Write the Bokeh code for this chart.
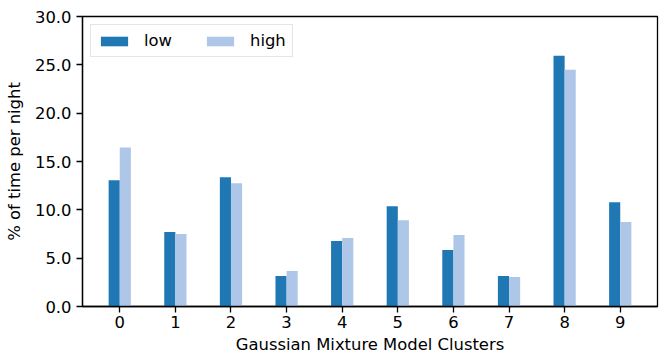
from bokeh.plotting import figure
from bokeh.models import ColumnDataSource, FixedTicker, PrintfTickFormatter, Range1d
from bokeh.embed import file_html
from bokeh.resources import INLINE

clusters = [0, 1, 2, 3, 4, 5, 6, 7, 8, 9]
low = [13.06, 7.70, 13.37, 3.16, 6.77, 10.38, 5.84, 3.16, 25.95, 10.79]
high = [16.46, 7.49, 12.75, 3.68, 7.08, 8.93, 7.39, 3.06, 24.50, 8.73]
y_ticks = [0, 5, 10, 15, 20, 25, 30]

FONT = "DejaVu Sans"
FS = "16.4px"

p = figure(width=663, height=356, output_backend="svg", toolbar_location=None,
           x_range=Range1d(-0.67, 9.67), y_range=Range1d(0, 30),
           min_border_left=82, min_border_right=6, min_border_top=16, min_border_bottom=49)

bw = 0.2
src_low = ColumnDataSource(dict(x=[c - bw / 2 for c in clusters], top=low))
src_high = ColumnDataSource(dict(x=[c + bw / 2 for c in clusters], top=high))
p.vbar(x="x", top="top", width=bw, bottom=0, source=src_low, color="#1f77b4", line_color=None, legend_label="low")
p.vbar(x="x", top="top", width=bw, bottom=0, source=src_high, color="#aec7e8", line_color=None, legend_label="high")

p.grid.visible = False
p.outline_line_color = "black"
p.outline_line_width = 1.3

p.xaxis.ticker = FixedTicker(ticks=clusters)
p.yaxis.ticker = FixedTicker(ticks=y_ticks)
p.yaxis.formatter = PrintfTickFormatter(format="%.1f")
p.xaxis.axis_label = "Gaussian Mixture Model Clusters"
p.yaxis.axis_label = "% of time per night"

for ax in (p.xaxis[0], p.yaxis[0]):
    ax.axis_line_color = "black"
    ax.axis_line_width = 1.3
    ax.major_tick_line_color = "black"
    ax.major_tick_line_width = 1.3
    ax.major_tick_out = 6
    ax.major_tick_in = 0
    ax.minor_tick_line_color = None
    ax.major_label_text_font = FONT
    ax.major_label_text_font_size = FS
    ax.major_label_text_color = "black"
    ax.axis_label_text_font = FONT
    ax.axis_label_text_font_size = FS
    ax.axis_label_text_font_style = "normal"
    ax.axis_label_text_color = "black"

p.xaxis.major_label_standoff = 3
p.xaxis.axis_label_standoff = 4
p.yaxis.major_label_standoff = 5
p.yaxis.axis_label_standoff = 8

lg = p.legend[0]
lg.location = "top_left"
lg.orientation = "horizontal"
lg.margin = 8
lg.padding = 6
lg.spacing = 31
lg.glyph_width = 34
lg.glyph_height = 12
lg.label_standoff = 13
lg.label_text_font = FONT
lg.label_text_font_size = FS
lg.label_text_color = "black"
lg.label_height = 17
lg.border_line_color = "#cccccc"
lg.border_line_width = 1
lg.background_fill_alpha = 0.8

open("out.html", "w").write(file_html(p, INLINE))
